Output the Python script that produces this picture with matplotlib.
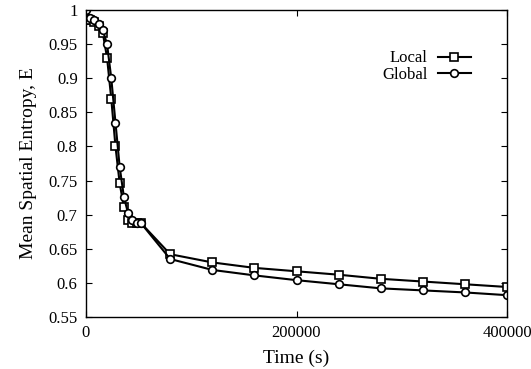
import matplotlib
matplotlib.use("Agg")
import matplotlib.pyplot as plt

plt.rcParams['font.family'] = ['Liberation Serif', 'DejaVu Serif']

time_s = [0, 4000, 8000, 12000, 16000, 20000, 24000, 28000, 32000, 36000, 40000,
          44000, 48000, 52000, 80000, 120000, 160000, 200000, 240000, 280000,
          320000, 360000, 400000]
local_e = [0.986, 0.985, 0.982, 0.976, 0.966, 0.930, 0.870, 0.800, 0.746, 0.711,
           0.692, 0.688, 0.688, 0.688, 0.642, 0.630, 0.622, 0.617, 0.612, 0.606,
           0.602, 0.598, 0.594]
global_e = [1.000, 0.988, 0.985, 0.980, 0.970, 0.950, 0.900, 0.835, 0.770, 0.726,
            0.702, 0.692, 0.688, 0.688, 0.635, 0.619, 0.611, 0.604, 0.598, 0.592,
            0.589, 0.586, 0.582]
x_ticks = [0, 200000, 400000]
y_ticks = [0.55, 0.6, 0.65, 0.7, 0.75, 0.8, 0.85, 0.9, 0.95, 1.0]
y_labels = ['0.55', '0.6', '0.65', '0.7', '0.75', '0.8', '0.85', '0.9', '0.95', '1']

fig = plt.figure(figsize=(5.31, 3.69), dpi=100)
ax = fig.add_axes([86/531, 1 - 317/369, (507-86)/531, (317-10)/369])

ax.plot(time_s, local_e, color='black', lw=1.5, marker='s', ms=5.5,
        mfc='white', mec='black', mew=1.2, label='Local')
ax.plot(time_s, global_e, color='black', lw=1.5, marker='o', ms=5.5,
        mfc='white', mec='black', mew=1.2, label='Global')

ax.set_xlim(0, 400000)
ax.set_ylim(0.55, 1.0)
ax.set_xticks(x_ticks)
ax.set_xticklabels([str(t) for t in x_ticks])
ax.set_yticks(y_ticks)
ax.set_yticklabels(y_labels)
ax.tick_params(direction='in', top=True, right=True, labelsize=12, length=4, pad=6)
for s in ax.spines.values():
    s.set_linewidth(1.0)

ax.set_xlabel('Time (s)', fontsize=14, labelpad=6)
ax.set_ylabel('Mean Spatial Entropy, E', fontsize=14, labelpad=8)

ax.legend(loc='upper right', bbox_to_anchor=(0.93, 0.89), frameon=False,
          markerfirst=False, fontsize=12, handlelength=2.0, handletextpad=0.6,
          labelspacing=0.05, borderaxespad=0)

fig.savefig('out.png', dpi=100)
